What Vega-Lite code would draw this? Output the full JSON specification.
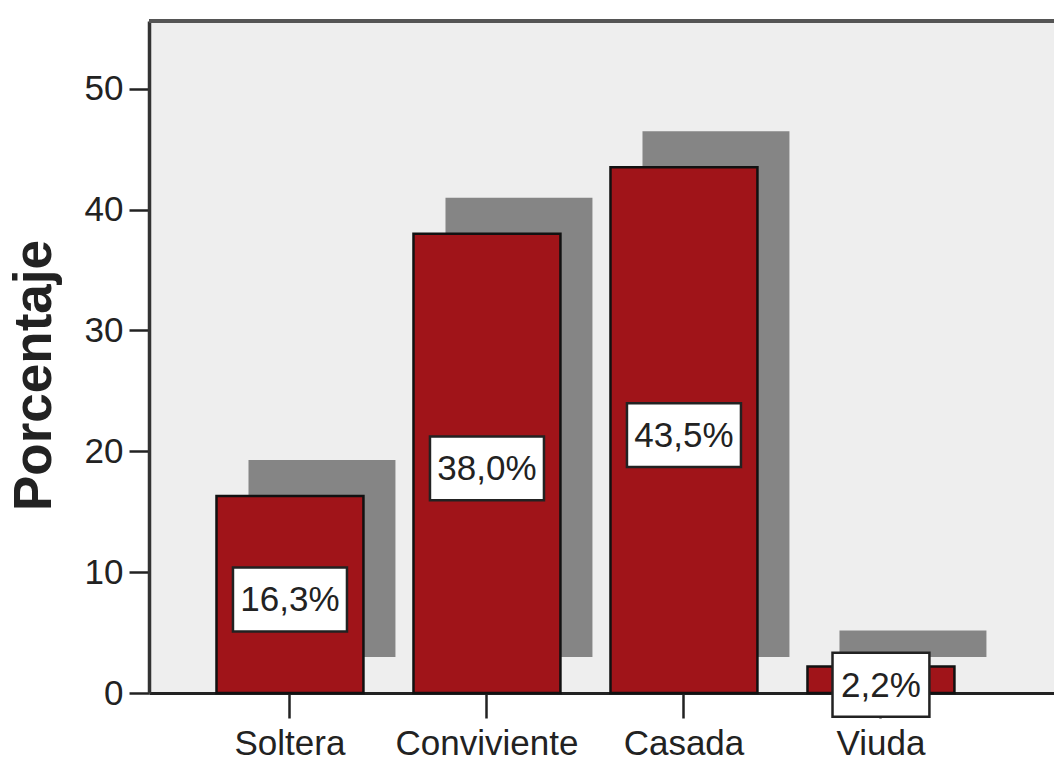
{
  "$schema": "https://vega.github.io/schema/vega-lite/v6.json",
  "width": 905,
  "height": 672,
  "autosize": {"type": "none"},
  "padding": {"left": 149, "top": 21, "right": 0, "bottom": 67},
  "background": "white",
  "config": {"view": {"fill": "#eeeeee", "stroke": null}, "font": "Liberation Sans"},
  "data": {"values": [
    {"cat": "Soltera", "pct": 16.3, "label": "16,3%"},
    {"cat": "Conviviente", "pct": 38.0, "label": "38,0%"},
    {"cat": "Casada", "pct": 43.5, "label": "43,5%"},
    {"cat": "Viuda", "pct": 2.2, "label": "2,2%"}
  ]},
  "transform": [{"calculate": "datum.pct / 2", "as": "mid"}],
  "layer": [
    {
      "mark": {"type": "bar", "color": "#858585", "xOffset": 32, "x2Offset": 32, "yOffset": -36, "y2Offset": -36},
      "encoding": {
        "x": {"field": "cat", "type": "nominal", "sort": null,
          "scale": {"paddingInner": 0.254, "paddingOuter": 0.424, "align": 0.404},
          "axis": {"title": null, "labelAngle": 0, "labelFontSize": 35, "labelLimit": 0, "labelColor": "#222", "tickSize": 25, "tickWidth": 2.5, "tickColor": "#222", "domainColor": "#222", "domainWidth": 3, "labelPadding": 36, "labelBaseline": "alphabetic"}},
        "y": {"field": "pct", "type": "quantitative",
          "scale": {"domain": [0, 55.6], "nice": false, "zero": true},
          "axis": {"title": "Porcentaje", "titleFontSize": 53, "titleFontWeight": "bold", "titleColor": "#222", "titleX": -99, "titleY": 354, "titleAngle": -90, "titleAlign": "center", "titleBaseline": "alphabetic", "values": [0, 10, 20, 30, 40, 50], "grid": false, "labelFontSize": 35, "labelPadding": 6, "labelColor": "#222", "tickSize": 20, "tickWidth": 2.5, "tickColor": "#222", "domainColor": "#333", "domainWidth": 3.5}},
        "y2": {"datum": 0}
      }
    },
    {
      "mark": {"type": "bar", "color": "#a01419", "stroke": "#111", "strokeWidth": 2.5},
      "encoding": {
        "x": {"field": "cat", "type": "nominal", "sort": null},
        "y": {"field": "pct", "type": "quantitative"},
        "y2": {"datum": 0}
      }
    },
    {
      "mark": {"type": "point", "filled": true, "fill": "white", "fillOpacity": 1, "stroke": "#222", "strokeWidth": 2.5, "strokeOpacity": 1, "size": 12996, "yOffset": 5},
      "encoding": {
        "x": {"field": "cat", "type": "nominal", "sort": null},
        "y": {"field": "mid", "type": "quantitative"},
        "shape": {"condition": {"test": "datum.cat === 'Viuda'", "value": "M-0.85,-0.56H0.85V0.56H-0.85Z"}, "value": "M-1,-0.56H1V0.56H-1Z"}
      }
    },
    {
      "mark": {"type": "text", "fontSize": 35, "color": "#222", "baseline": "middle", "align": "center", "yOffset": 6},
      "encoding": {
        "x": {"field": "cat", "type": "nominal", "sort": null},
        "y": {"field": "mid", "type": "quantitative"},
        "text": {"field": "label"}
      }
    },
    {
      "data": {"values": [{}]},
      "mark": {"type": "rule", "color": "#555", "strokeWidth": 4},
      "encoding": {"y": {"datum": 55.6}}
    }
  ]
}
